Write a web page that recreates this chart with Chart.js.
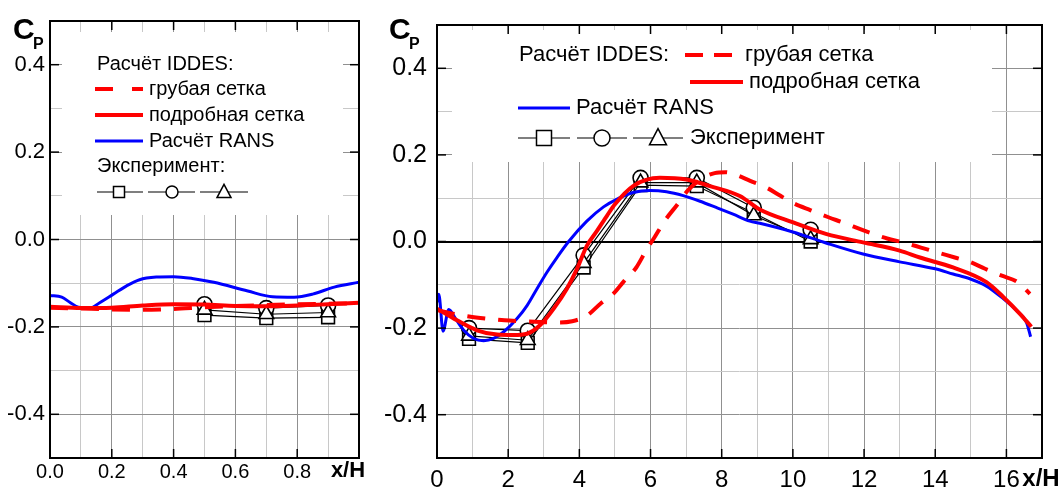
<!DOCTYPE html>
<html>
<head>
<meta charset="utf-8">
<script src="https://cdn.jsdelivr.net/npm/chart.js@4.4.1/dist/chart.umd.min.js"></script>
<style>
  html, body { margin: 0; padding: 0; background: #fff; }
  #wrap { position: relative; width: 1063px; height: 490px; }
  .panel { position: absolute; top: 0; height: 490px; }
  #pl { left: 0; width: 375px; }
  #pr { left: 375px; width: 688px; }
</style>
</head>
<body>
<div id="wrap">
  <div class="panel" id="pl"><canvas id="cl"></canvas></div>
  <div class="panel" id="pr"><canvas id="cr"></canvas></div>
</div>
<script>
// ---- data: left panel (x/H from 0 to 1) ----
const leftRansX = [0, 0.038, 0.065, 0.092, 0.13, 0.162, 0.205, 0.248, 0.29, 0.345, 0.4, 0.46, 0.53, 0.64, 0.72, 0.79, 0.85, 0.92, 1.0];
const leftRansY = [-0.128, -0.132, -0.144, -0.155, -0.157, -0.144, -0.125, -0.106, -0.092, -0.086, -0.085, -0.089, -0.098, -0.118, -0.131, -0.132, -0.125, -0.109, -0.098];
const leftFineX = [0, 0.1, 0.2, 0.3, 0.4, 0.5, 0.6, 0.7, 0.8, 0.9, 1.0];
const leftFineY = [-0.154, -0.157, -0.156, -0.151, -0.148, -0.149, -0.152, -0.153, -0.151, -0.148, -0.145];
const leftCoarseX = [0, 0.1, 0.2, 0.3, 0.4, 0.5, 0.6, 0.7, 0.8, 0.9, 1.0];
const leftCoarseY = [-0.156, -0.158, -0.160, -0.161, -0.159, -0.155, -0.152, -0.150, -0.148, -0.147, -0.146];
const leftExpX = [0.5, 0.7, 0.9];
const leftExpSquare = [-0.173, -0.180, -0.178];
const leftExpCircle = [-0.148, -0.157, -0.151];
const leftExpTriangle = [-0.161, -0.171, -0.167];

// ---- data: right panel (x/H from 0 to 17) ----
const rightRansX = [0, 0.05, 0.17, 0.33, 0.52, 0.75, 1.03, 1.31, 1.59, 1.87, 2.25, 2.53, 2.81, 3.09, 3.37, 3.7, 4.21, 4.68, 5.06, 5.51, 5.98, 6.45, 6.92, 7.39, 7.86, 8.32, 8.79, 9.07, 10.0, 10.95, 11.97, 13.0, 14.0, 14.5, 14.97, 15.44, 15.91, 16.28, 16.56, 16.68];
const rightRansY = [-0.14, -0.122, -0.207, -0.157, -0.178, -0.205, -0.224, -0.229, -0.224, -0.209, -0.178, -0.148, -0.109, -0.071, -0.037, 0.0, 0.047, 0.08, 0.098, 0.113, 0.118, 0.115, 0.106, 0.093, 0.078, 0.063, 0.047, 0.042, 0.022, -0.004, -0.029, -0.047, -0.063, -0.075, -0.086, -0.103, -0.132, -0.159, -0.186, -0.22];
const rightFineX = [0, 0.56, 1.12, 1.69, 2.15, 2.53, 2.9, 3.28, 3.65, 3.93, 4.21, 4.5, 4.78, 5.0, 5.51, 6.26, 7.01, 7.67, 8.51, 9.07, 10.01, 10.95, 11.97, 13.0, 13.57, 14.5, 15.44, 15.91, 16.38, 16.7];
const rightFineY = [-0.155, -0.182, -0.205, -0.215, -0.216, -0.213, -0.193, -0.155, -0.109, -0.064, -0.01, 0.025, 0.06, 0.086, 0.128, 0.147, 0.143, 0.128, 0.105, 0.074, 0.044, 0.017, -0.002, -0.021, -0.037, -0.06, -0.094, -0.128, -0.167, -0.197];
const rightCoarseX = [0, 0.4, 0.9, 1.4, 1.9, 2.4, 2.9, 3.3, 3.8, 4.2, 4.6, 4.95, 5.25, 5.6, 5.9, 6.1, 6.4, 6.75, 7.05, 7.4, 7.8, 8.1, 8.4, 8.8, 9.27, 9.6, 10.0, 10.5, 11.0, 11.4, 12.1, 12.65, 13.1, 13.6, 14.05, 14.55, 15.0, 15.4, 15.87, 16.32, 16.66];
const rightCoarseY = [-0.158, -0.166, -0.173, -0.178, -0.182, -0.184, -0.186, -0.187, -0.184, -0.172, -0.143, -0.121, -0.092, -0.06, -0.017, 0.008, 0.048, 0.085, 0.118, 0.143, 0.158, 0.16, 0.154, 0.14, 0.124, 0.108, 0.089, 0.072, 0.056, 0.044, 0.022, 0.007, -0.002, -0.014, -0.025, -0.037, -0.048, -0.063, -0.079, -0.094, -0.121];
const rightExpX = [0.9, 2.55, 4.12, 5.72, 7.3, 8.9, 10.5];
const rightExpSquare = [-0.225, -0.234, -0.060, 0.130, 0.128, 0.066, 0.0];
const rightExpCircle = [-0.200, -0.206, -0.032, 0.147, 0.147, 0.078, 0.027];
const rightExpTriangle = [-0.218, -0.228, -0.050, 0.136, 0.136, 0.060, 0.005];

const yMin = -0.5, yMax = 0.5;
const FONT = "'Liberation Sans', Arial, sans-serif";
const RED = '#ff0000', BLUE = '#0000ff';

Chart.defaults.font.family = FONT;
Chart.defaults.color = '#000';

function pts(xs, ys) { return xs.map((x, i) => ({ x, y: ys[i] })); }
function isMajor(v, step) { return Math.abs(v / step - Math.round(v / step)) < 1e-6; }

function curve(xs, ys, color, width, dash) {
  return { data: pts(xs, ys), borderColor: color, borderWidth: width, borderDash: dash || [],
           pointRadius: 0, cubicInterpolationMode: 'monotone', fill: false };
}
function exp(xs, ys, style, r) {
  return { data: pts(xs, ys), borderColor: '#000', borderWidth: 1.2, tension: 0,
           pointStyle: style, pointRadius: r, pointBackgroundColor: '#fff',
           pointBorderColor: '#000', pointBorderWidth: 1.6, fill: false };
}

function marker(c, style, x, y, s) {
  c.beginPath();
  if (style === 'rect') c.rect(x - s / 2, y - s / 2, s, s);
  else if (style === 'circle') c.arc(x, y, s / 2, 0, Math.PI * 2);
  else { c.moveTo(x, y - s * 0.55); c.lineTo(x + s / 2, y + s * 0.4); c.lineTo(x - s / 2, y + s * 0.4); c.closePath(); }
  c.fillStyle = '#fff'; c.fill();
  c.lineWidth = 1.5; c.strokeStyle = '#000'; c.stroke();
}

function makePanel(id, p) {
  const deco = {
    id: 'deco',
    beforeDatasetsDraw(chart) {
      const c = chart.ctx, b = p.box;
      c.save();
      c.fillStyle = '#fff';
      c.fillRect(b[0] - p.offset, b[1], b[2] - b[0], b[3] - b[1]);
      c.restore();
    },
    afterDraw(chart) {
      const c = chart.ctx, a = chart.chartArea, xs = chart.scales.x, ys = chart.scales.y;
      const seg = (x1, y1, x2, y2) => { c.beginPath(); c.moveTo(x1, y1); c.lineTo(x2, y2); c.stroke(); };
      c.save();
      c.strokeStyle = '#000'; c.lineWidth = 1.5;
      ys.ticks.forEach(t => {
        if (!isMajor(t.value, 0.2) || t.value <= yMin || t.value >= yMax) return;
        const py = ys.getPixelForValue(t.value);
        seg(a.left, py, a.left + 9, py); seg(a.right - 9, py, a.right, py);
      });
      xs.ticks.forEach(t => {
        if (!isMajor(t.value, p.xMajor) || t.value <= 0 || t.value >= p.xMax) return;
        const px = xs.getPixelForValue(t.value);
        seg(px, a.top, px, a.top + 9); seg(px, a.bottom - 9, px, a.bottom);
      });
      c.lineWidth = 2;
      c.strokeRect(a.left, a.top, a.right - a.left, a.bottom - a.top);

      // axis titles
      c.fillStyle = '#000';
      c.textBaseline = 'alphabetic'; c.textAlign = 'left';
      c.font = 'bold 30px ' + FONT; c.fillText('C', p.cp[0] - p.offset, p.cp[1]);
      c.font = 'bold 16px ' + FONT; c.fillText('P', p.cp[0] - p.offset + 20, p.cp[1] + 10);
      c.textAlign = 'center'; c.textBaseline = 'middle';
      c.font = 'bold ' + p.xhFont + 'px ' + FONT;
      c.fillText('x/H', p.xh[0] - p.offset, p.xh[1]);

      // legend
      p.legend.forEach(it => {
        c.save();
        if (it.t) {
          c.font = p.legFont + 'px ' + FONT; c.textAlign = 'left'; c.textBaseline = 'middle';
          c.fillStyle = '#000'; c.fillText(it.t, it.x - p.offset, it.y);
        } else if (it.line) {
          c.strokeStyle = it.line; c.lineWidth = it.w; c.setLineDash(it.dash || []);
          seg(it.x1 - p.offset, it.y, it.x2 - p.offset, it.y);
        } else if (it.m) {
          c.strokeStyle = '#000'; c.lineWidth = 1.2;
          seg(it.x1 - p.offset, it.y, it.x2 - p.offset, it.y);
          marker(c, it.m, it.x - p.offset, it.y, it.s);
        }
        c.restore();
      });
      c.restore();
    }
  };

  const gridColor = (step, zeroBlack) => ctx => {
    const v = ctx.tick ? ctx.tick.value : 0;
    if (zeroBlack && Math.abs(v) < 1e-9) return '#000';
    return isMajor(v, step) ? '#909090' : '#c8c8c8';
  };
  const gridWidth = (zeroBlack) => ctx => (zeroBlack && ctx.tick && Math.abs(ctx.tick.value) < 1e-9) ? 2 : 1;
  const gridDash = (step) => ctx => (ctx.tick && isMajor(ctx.tick.value, step)) ? [] : [1, 2];

  return new Chart(document.getElementById(id), {
    type: 'line',
    data: { datasets: p.datasets },
    options: {
      responsive: true,
      maintainAspectRatio: false,
      animation: false,
      layout: { padding: { top: 21, right: p.padRight, left: 0, bottom: 0 } },
      plugins: { legend: { display: false }, tooltip: { enabled: false } },
      scales: {
        x: {
          type: 'linear', min: 0, max: p.xMax,
          border: { display: false },
          grid: { drawTicks: false, color: gridColor(p.xMajor, false), lineWidth: 1,
                  borderDash: gridDash(p.xMajor), dash: gridDash(p.xMajor) },
          ticks: {
            stepSize: p.xStep, autoSkip: false, maxRotation: 0, padding: p.xPad,
            font: { size: p.xFont }, color: '#000',
            callback: v => (isMajor(v, p.xMajor) && v < p.xMax - 1e-9) ? p.xLabel(v) : ''
          },
          afterFit: s => { s.height = 32; }
        },
        y: {
          type: 'linear', min: yMin, max: yMax,
          border: { display: false },
          grid: { drawTicks: false, color: gridColor(0.2, p.zeroBlack), lineWidth: gridWidth(p.zeroBlack),
                  borderDash: gridDash(0.2), dash: gridDash(0.2) },
          ticks: {
            stepSize: 0.1, autoSkip: false, padding: p.yPad,
            font: { size: p.yFont }, color: '#000',
            callback: v => {
              const k = Math.round(v * 10);
              return (k % 2 === 0 && Math.abs(k) < 5) ? (k / 10).toFixed(1) : '';
            }
          },
          afterFit: s => { s.width = p.yWidth; }
        }
      }
    },
    plugins: [deco]
  });
}

makePanel('cl', {
  offset: 0, xMax: 1, xStep: 0.1, xMajor: 0.2, padRight: 16, yWidth: 50,
  xFont: 20, yFont: 22, xPad: 2, yPad: 5, zeroBlack: false,
  xLabel: v => v.toFixed(1),
  box: [62, 32, 343, 215], cp: [13, 39], xh: [348, 471], xhFont: 22, legFont: 20,
  legend: [
    { t: 'Расчёт IDDES:', x: 97, y: 64 },
    { line: RED, w: 4, dash: [18, 19], x1: 95, x2: 143, y: 89 },
    { t: 'грубая сетка', x: 149, y: 89 },
    { line: RED, w: 4, x1: 95, x2: 143, y: 115 },
    { t: 'подробная сетка', x: 149, y: 115 },
    { line: BLUE, w: 3, x1: 95, x2: 143, y: 141 },
    { t: 'Расчёт RANS', x: 149, y: 141 },
    { t: 'Эксперимент:', x: 97, y: 166 },
    { m: 'rect', x: 119, x1: 97, x2: 143, y: 192, s: 11 },
    { m: 'circle', x: 172, x1: 148, x2: 195, y: 192, s: 12 },
    { m: 'triangle', x: 224, x1: 200, x2: 248, y: 192, s: 14 }
  ],
  datasets: [
    curve(leftFineX, leftFineY, RED, 4),
    curve(leftCoarseX, leftCoarseY, RED, 4, [18, 13]),
    curve(leftRansX, leftRansY, BLUE, 3),
    exp(leftExpX, leftExpTriangle, 'triangle', 8.5),
    exp(leftExpX, leftExpCircle, 'circle', 7.5),
    exp(leftExpX, leftExpSquare, 'rect', 9)
  ]
});

makePanel('cr', {
  offset: 375, xMax: 17, xStep: 1, xMajor: 2, padRight: 21, yWidth: 62,
  xFont: 24, yFont: 25, xPad: 8, yPad: 10, zeroBlack: true,
  xLabel: v => String(Math.round(v)),
  box: [452, 30, 992, 162], cp: [389, 39], xh: [1041, 479], xhFont: 24, legFont: 22,
  legend: [
    { t: 'Расчёт IDDES:', x: 519, y: 55 },
    { line: RED, w: 4, dash: [18, 11], x1: 685, x2: 742, y: 55 },
    { t: 'грубая сетка', x: 745, y: 55 },
    { line: RED, w: 4, x1: 690, x2: 743, y: 82 },
    { t: 'подробная сетка', x: 749, y: 82 },
    { line: BLUE, w: 3, x1: 518, x2: 570, y: 108 },
    { t: 'Расчёт RANS', x: 576, y: 108 },
    { m: 'rect', x: 544, x1: 518, x2: 570, y: 138, s: 15 },
    { m: 'circle', x: 602, x1: 577, x2: 627, y: 138, s: 16 },
    { m: 'triangle', x: 658, x1: 633, x2: 683, y: 138, s: 17 },
    { t: 'Эксперимент', x: 690, y: 138 }
  ],
  datasets: [
    curve(rightFineX, rightFineY, RED, 4),
    curve(rightCoarseX, rightCoarseY, RED, 4, [18, 13]),
    curve(rightRansX, rightRansY, BLUE, 3),
    exp(rightExpX, rightExpTriangle, 'triangle', 8.5),
    exp(rightExpX, rightExpCircle, 'circle', 7.5),
    exp(rightExpX, rightExpSquare, 'rect', 9)
  ]
});
</script>
</body>
</html>
